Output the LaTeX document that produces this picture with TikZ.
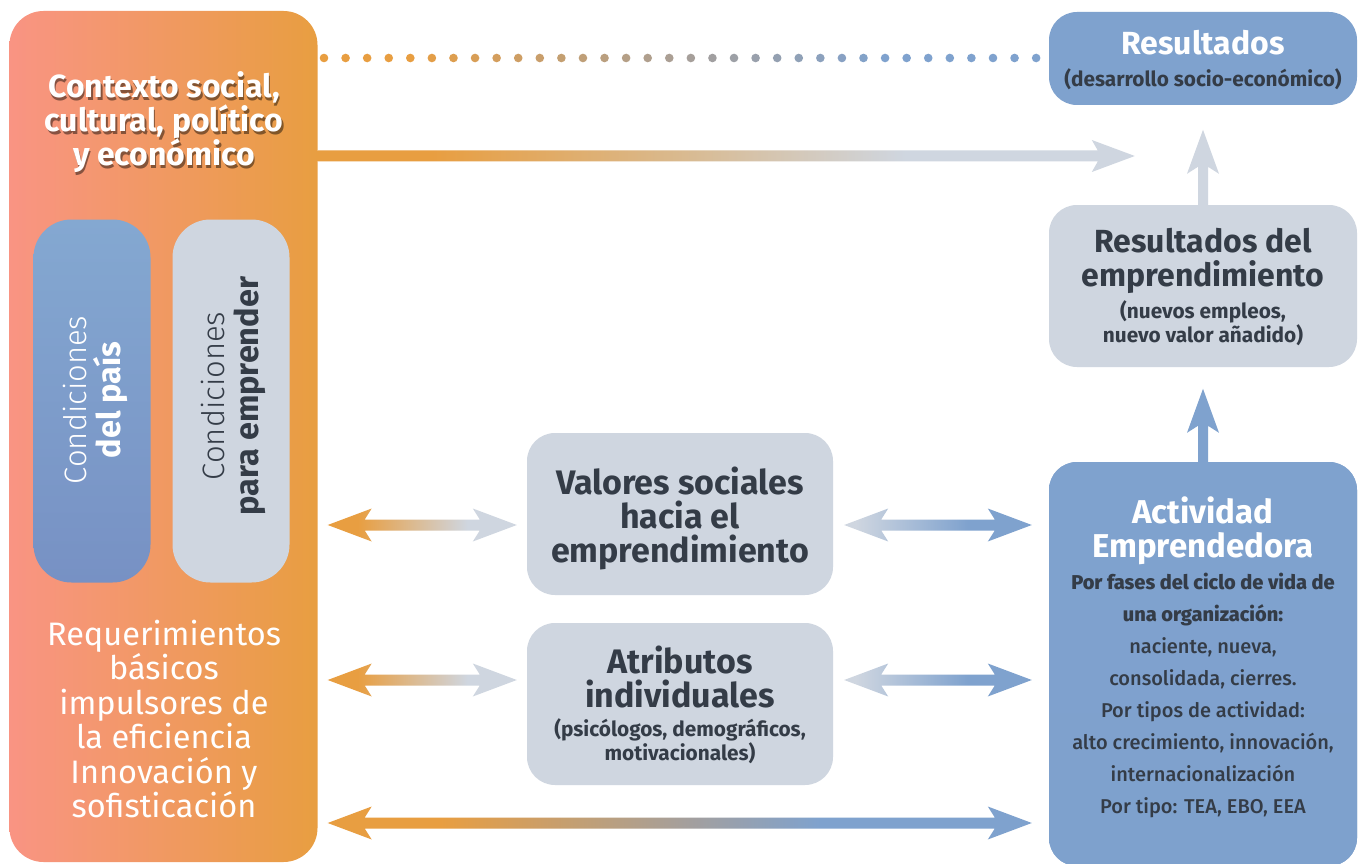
\documentclass[tikz,border=0pt]{standalone}
\usepackage{fontspec}
\setmainfont{Fira Sans}
\newfontfamily\lightfont{Fira Sans Light}
\newfontfamily\medfont{Fira Sans Medium}
\usetikzlibrary{calc}
\definecolor{salmon}{HTML}{F99483}
\definecolor{orng}{HTML}{E89E41}
\definecolor{blu}{HTML}{7FA2CE}
\definecolor{blutop}{HTML}{84A8D1}
\definecolor{blubot}{HTML}{7791C4}
\definecolor{gry}{HTML}{CFD6E0}
\definecolor{midg}{HTML}{A69F9A}
\definecolor{beige}{HTML}{D9B98E}
\definecolor{txt}{HTML}{343C47}
\pgfdeclarehorizontalshading{shog}{100bp}{color(0bp)=(orng); color(33bp)=(orng); color(62bp)=(gry); color(100bp)=(gry)}
\pgfdeclarehorizontalshading{shgb}{100bp}{color(0bp)=(gry); color(28bp)=(gry); color(58bp)=(blu); color(100bp)=(blu)}
\pgfdeclarehorizontalshading{shob}{100bp}{color(0bp)=(orng); color(33bp)=(orng); color(50bp)=(midg); color(60bp)=(blu); color(100bp)=(blu)}
\pgfdeclarehorizontalshading{shtop}{100bp}{color(0bp)=(orng); color(32bp)=(orng); color(47bp)=(beige); color(61bp)=(gry); color(100bp)=(gry)}
% double horizontal arrow: #1 left tip, #2 right tip, #3 shading
\newcommand\dblarr[3]{%
  \path[shade,shading=#3] let \p1=(#1), \p2=(#2) in
    (\x1,\y1) -- (\x1+44pt,\y1+16.5pt) -- (\x1+37pt,\y1+5.5pt) -- (\x2-37pt,\y1+5.5pt)
    -- (\x2-44pt,\y1+16.5pt) -- (\x2,\y1) -- (\x2-44pt,\y1-16.5pt) -- (\x2-37pt,\y1-5.5pt)
    -- (\x1+37pt,\y1-5.5pt) -- (\x1+44pt,\y1-16.5pt) -- cycle;}
% single right arrow: #1 tail, #2 tip, #3 shading
\newcommand\rarr[3]{%
  \path[shade,shading=#3] let \p1=(#1), \p2=(#2) in
    (\x1,\y1+5.5pt) -- (\x2-37pt,\y1+5.5pt) -- (\x2-43pt,\y1+16pt) -- (\x2,\y1)
    -- (\x2-43pt,\y1-16pt) -- (\x2-37pt,\y1-5.5pt) -- (\x1,\y1-5.5pt) -- cycle;}
% up arrow: #1 tail, #2 tip, #3 colour
\newcommand\uarr[3]{%
  \fill[#3] let \p1=(#1), \p2=(#2) in
    (\x1-5pt,\y1) -- (\x1-5pt,\y2-37pt) -- (\x1-16pt,\y2-44pt) -- (\x1,\y2)
    -- (\x1+16pt,\y2-44pt) -- (\x1+5pt,\y2-37pt) -- (\x1+5pt,\y1) -- cycle;}
\begin{document}
\begin{tikzpicture}[x=1pt,y=-1pt,
  box/.style={rectangle,rounded corners=28pt,inner sep=0pt},
  graybox/.style={box,fill=gry},
  bluebox/.style={box,fill=blu},
  ttl/.style={font=\bfseries\fontsize{32}{34}\selectfont,align=center,anchor=base},
  bigttl/.style={font=\bfseries\fontsize{34}{34}\selectfont,align=center,anchor=base},
  sub/.style={font=\bfseries\fontsize{20.8}{24}\selectfont,align=center,anchor=base,text=txt},
  det/.style={font=\medfont\fontsize{20}{32}\selectfont,align=center,anchor=base,text=txt}]
\useasboundingbox (0,0) rectangle (1358,864);
\fill[white] (0,0) rectangle (1358,864);

% left panel
\node[box,rounded corners=34pt,minimum width=308pt,minimum height=851pt,left color=salmon,right color=orng] (ctx) at (163.5,436.5) {};
\node[box,rounded corners=38pt,minimum width=117pt,minimum height=363pt,top color=blutop,bottom color=blubot] (cp) at (92,401) {};
\node[graybox,rounded corners=38pt,minimum width=117pt,minimum height=363pt] (ce) at (231,401) {};

\node[ttl,text=black,opacity=.45] (ctxsh) at (165.5,168) {Contexto social,\\cultural, político\\y económico};
\node[ttl,text=white] (ctxt) at (164,166) {Contexto social,\\cultural, político\\y económico};
\node[font=\fontsize{32.5}{34.5}\selectfont,align=center,anchor=base,text=white] (req) at (164,817.5)
  {Requerimientos\\básicos\\impulsores de\\la eficiencia\\Innovación y\\sofisticación};
\node[rotate=90,anchor=base,align=center,text=white,font=\fontsize{31}{34}\selectfont] (cpt) at (120,400)
  {{\lightfont Condiciones}\\{\bfseries\fontsize{32.5}{34}\selectfont del país}};
\node[rotate=90,anchor=base,align=center,text=txt,font=\fontsize{31}{34}\selectfont] (cet) at (258,396)
  {{\lightfont Condiciones}\\{\bfseries\fontsize{32.5}{34}\selectfont para emprender}};

% right column
\node[bluebox,minimum width=308pt,minimum height=93pt] (res) at (1203,58.5) {};
\node[ttl,text=white] (rest) at (1203,55) {Resultados};
\node[sub] (ress) at (1203,87) {(desarrollo socio-económico)};

\node[graybox,minimum width=308pt,minimum height=162pt] (rde) at (1203,286) {};
\node[ttl,text=txt] (rdet) at (1203,286) {Resultados del\\emprendimiento};
\node[sub] (rdes) at (1203,342) {(nuevos empleos,\\nuevo valor añadido)};

\node[bluebox,minimum width=308pt,minimum height=404pt,top color=blu,bottom color=blu!92!blubot] (act) at (1203,664) {};
\node[ttl,font=\bfseries\fontsize{33}{34}\selectfont,text=white] (actt) at (1203,557) {Actividad\\Emprendedora};
\node[det] (actd) at (1203,813) {\textbf{Por fases del ciclo de vida de}\\\textbf{una organización:}\\naciente, nueva,\\consolidada, cierres.\\Por tipos de actividad:\\alto crecimiento, innovación,\\internacionalización\\Por tipo: TEA, EBO, EEA};

% middle column
\node[graybox,minimum width=306pt,minimum height=162pt] (val) at (680,514) {};
\node[bigttl,text=txt] (valt) at (680,562) {Valores sociales\\hacia el\\emprendimiento};
\node[graybox,minimum width=306pt,minimum height=162pt] (atr) at (680,704) {};
\node[bigttl,text=txt] (atrt) at (680,707) {Atributos\\individuales};
\node[sub] (atrs) at (680,760) {(psicólogos, demográficos,\\motivacionales)};

% dotted link
\foreach \i in {0,...,33}{
  \pgfmathsetmacro\xx{324+\i*21.58}
  \ifnum\i<17
    \pgfmathtruncatemacro\pp{max(0,min(100,100-(\i-4)*100/13))}
    \fill[orng!\pp!midg] (\xx,58) circle (4.3);
  \else
    \pgfmathtruncatemacro\pp{max(0,min(100,100-(\i-17)*100/9))}
    \fill[midg!\pp!blu] (\xx,58) circle (4.3);
  \fi
}

% coordinates for arrows
\coordinate (a1l) at ($(ctx.east |- 0,525)+(10,0)$);
\coordinate (a1r) at ($(val.west |- 0,525)+(-10,0)$);
\coordinate (a2l) at ($(val.east |- 0,525)+(11,0)$);
\coordinate (a2r) at ($(act.west |- 0,525)+(-17,0)$);
\coordinate (b1l) at ($(ctx.east |- 0,680)+(10,0)$);
\coordinate (b1r) at ($(atr.west |- 0,680)+(-10,0)$);
\coordinate (b2l) at ($(atr.east |- 0,680)+(11,0)$);
\coordinate (b2r) at ($(act.west |- 0,680)+(-17,0)$);
\coordinate (c1l) at ($(ctx.east |- 0,823)+(10,0)$);
\coordinate (c1r) at ($(act.west |- 0,823)+(-17,0)$);
\coordinate (toptail) at (ctx.east |- 0,156);
\coordinate (toptip) at ($(res.west |- 0,156)+(86,0)$);
\coordinate (up1tip) at ($(rde.north)+(0,-75)$);
\coordinate (up2tip) at ($(act.north)+(0,-73)$);

\dblarr{a1l}{a1r}{shog}
\dblarr{a2l}{a2r}{shgb}
\dblarr{b1l}{b1r}{shog}
\dblarr{b2l}{b2r}{shgb}
\dblarr{c1l}{c1r}{shob}
\rarr{toptail}{toptip}{shtop}
\uarr{rde.north}{up1tip}{gry}
\uarr{act.north}{up2tip}{blu}
\end{tikzpicture}
\end{document}
